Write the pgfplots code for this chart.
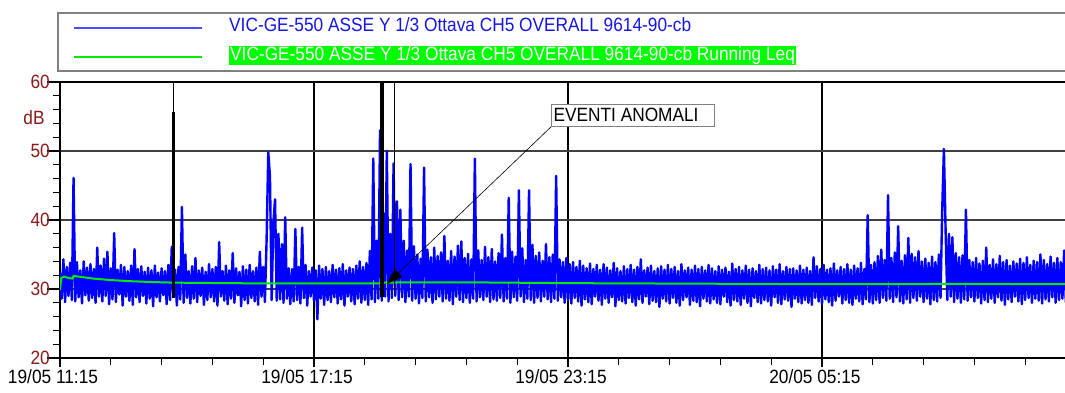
\documentclass[border=0pt]{standalone}
\usepackage{pgfplots}
\pgfplotsset{compat=1.18}
\usepackage{pgfplotstable}
\usepackage{fontspec}
\setmainfont{Liberation Sans}[FakeStretch=0.9]
\usetikzlibrary{arrows.meta}
\definecolor{dred}{RGB}{139,26,26}
\definecolor{gridg}{RGB}{64,64,64}
\definecolor{leqg}{RGB}{0,235,0}
\definecolor{hlg}{RGB}{0,255,0}
\definecolor{lblue}{RGB}{20,20,230}
\newcommand\fs{\fontsize{19.2pt}{20pt}\selectfont}
% blue trace, one sample every 0.04 h from 19/05 11:15
\pgfplotstableread[row sep=\\]{
y\\
32.4\\ 28.6\\ 34.3\\ 28.1\\ 33.2\\ 29.0\\ 33.8\\ 28.4\\ 46.1\\ 28.2\\
33.9\\ 28.8\\ 32.7\\ 27.9\\ 34.0\\ 29.1\\ 33.1\\ 28.3\\ 33.6\\ 28.7\\
32.9\\ 28.0\\ 36.0\\ 28.9\\ 33.4\\ 28.2\\ 34.4\\ 29.0\\ 35.4\\ 27.8\\
33.0\\ 28.5\\ 38.1\\ 28.1\\ 32.8\\ 29.2\\ 33.5\\ 27.6\\ 33.2\\ 28.9\\
32.6\\ 28.3\\ 33.4\\ 27.7\\ 35.8\\ 28.8\\ 32.9\\ 28.1\\ 33.3\\ 29.0\\
32.5\\ 27.9\\ 33.1\\ 28.6\\ 32.7\\ 27.5\\ 33.4\\ 28.8\\ 32.4\\ 28.2\\
33.0\\ 29.1\\ 32.6\\ 27.8\\ 33.5\\ 28.4\\ 36.1\\ 28.9\\ 32.8\\ 27.6\\
33.2\\ 28.5\\ 41.9\\ 28.0\\ 35.0\\ 28.7\\ 32.6\\ 27.9\\ 33.3\\ 28.6\\
34.5\\ 28.1\\ 32.7\\ 29.0\\ 33.1\\ 27.7\\ 32.5\\ 28.4\\ 33.6\\ 28.8\\
32.9\\ 28.2\\ 33.2\\ 27.6\\ 36.8\\ 28.9\\ 32.6\\ 28.3\\ 33.4\\ 27.8\\
32.7\\ 28.6\\ 35.2\\ 28.0\\ 33.0\\ 29.1\\ 32.5\\ 27.5\\ 33.3\\ 28.4\\
32.8\\ 27.9\\ 33.5\\ 28.7\\ 32.6\\ 28.2\\ 33.1\\ 27.7\\ 35.4\\ 28.9\\
33.2\\ 28.1\\ 37.0\\ 49.8\\ 46.3\\ 28.4\\ 39.6\\ 43.0\\ 28.3\\ 38.0\\
28.5\\ 36.5\\ 28.0\\ 40.4\\ 28.6\\ 33.0\\ 27.8\\ 32.9\\ 28.2\\ 38.7\\
28.4\\ 33.2\\ 27.9\\ 38.9\\ 28.7\\ 33.5\\ 27.6\\ 32.6\\ 28.9\\ 33.1\\
28.3\\ 32.7\\ 25.6\\ 33.4\\ 28.6\\ 32.9\\ 27.7\\ 33.2\\ 28.4\\ 32.6\\
28.1\\ 33.5\\ 28.8\\ 32.8\\ 27.9\\ 33.0\\ 28.5\\ 33.6\\ 27.6\\ 32.7\\
28.9\\ 33.1\\ 28.2\\ 32.9\\ 27.8\\ 33.4\\ 28.6\\ 34.0\\ 28.0\\ 33.2\\
28.4\\ 33.8\\ 27.7\\ 35.5\\ 28.5\\ 48.9\\ 28.1\\ 37.0\\ 28.6\\ 53.0\\
28.3\\ 41.0\\ 28.9\\ 50.0\\ 28.2\\ 38.0\\ 28.7\\ 48.2\\ 29.0\\ 42.7\\
28.4\\ 41.5\\ 28.8\\ 37.0\\ 28.1\\ 35.6\\ 28.9\\ 48.1\\ 28.3\\ 36.2\\
28.6\\ 35.0\\ 27.9\\ 34.4\\ 28.7\\ 47.6\\ 28.2\\ 35.7\\ 28.8\\ 34.6\\
28.0\\ 36.0\\ 28.5\\ 34.8\\ 28.9\\ 35.3\\ 28.2\\ 37.7\\ 28.6\\ 34.1\\
28.3\\ 35.5\\ 27.8\\ 34.7\\ 28.9\\ 36.3\\ 28.4\\ 36.9\\ 28.1\\ 34.5\\
28.7\\ 35.1\\ 28.0\\ 34.3\\ 28.6\\ 48.9\\ 28.2\\ 35.6\\ 28.8\\ 34.2\\
28.4\\ 36.1\\ 28.9\\ 34.6\\ 28.1\\ 35.8\\ 28.5\\ 34.0\\ 28.3\\ 35.2\\
28.7\\ 37.9\\ 28.2\\ 34.5\\ 28.6\\ 43.2\\ 28.0\\ 35.4\\ 28.8\\ 34.7\\
28.3\\ 44.3\\ 28.9\\ 35.9\\ 28.1\\ 34.2\\ 28.6\\ 44.3\\ 28.4\\ 36.4\\
28.0\\ 34.8\\ 28.7\\ 35.3\\ 28.2\\ 34.1\\ 28.9\\ 36.5\\ 28.5\\ 34.6\\
28.1\\ 35.0\\ 28.6\\ 46.4\\ 28.3\\ 34.3\\ 28.8\\ 33.9\\ 28.0\\ 34.5\\
28.4\\ 33.6\\ 27.9\\ 33.9\\ 28.7\\ 33.2\\ 28.2\\ 34.1\\ 27.6\\ 33.4\\
28.5\\ 33.0\\ 28.1\\ 33.7\\ 27.8\\ 32.9\\ 28.9\\ 33.5\\ 28.3\\ 32.8\\
27.7\\ 33.6\\ 28.6\\ 33.1\\ 28.0\\ 32.7\\ 28.8\\ 33.8\\ 27.5\\ 33.0\\
28.4\\ 32.6\\ 28.2\\ 33.3\\ 27.9\\ 32.9\\ 28.7\\ 33.5\\ 28.1\\ 32.8\\
27.6\\ 33.2\\ 28.5\\ 34.3\\ 28.0\\ 32.7\\ 28.9\\ 33.1\\ 27.8\\ 33.4\\
28.3\\ 32.6\\ 28.1\\ 33.0\\ 27.4\\ 33.3\\ 28.6\\ 32.8\\ 28.2\\ 33.5\\
27.9\\ 32.9\\ 28.7\\ 33.2\\ 28.0\\ 32.6\\ 27.6\\ 33.6\\ 28.4\\ 32.7\\
28.8\\ 33.1\\ 27.7\\ 32.8\\ 28.3\\ 33.4\\ 28.1\\ 32.9\\ 27.5\\ 33.2\\
28.6\\ 32.7\\ 28.2\\ 33.5\\ 27.9\\ 33.0\\ 28.5\\ 32.6\\ 28.0\\ 33.3\\
27.8\\ 32.8\\ 28.9\\ 33.1\\ 28.1\\ 32.5\\ 27.6\\ 33.7\\ 28.4\\ 32.9\\
28.2\\ 33.2\\ 27.7\\ 32.7\\ 28.6\\ 33.4\\ 28.0\\ 32.8\\ 27.5\\ 33.0\\
28.7\\ 32.6\\ 28.1\\ 33.5\\ 27.9\\ 32.9\\ 28.4\\ 33.1\\ 28.2\\ 32.7\\
27.6\\ 33.3\\ 28.8\\ 32.8\\ 28.0\\ 33.6\\ 27.8\\ 32.6\\ 28.5\\ 33.2\\
28.3\\ 32.9\\ 27.4\\ 33.0\\ 28.6\\ 32.7\\ 28.1\\ 33.4\\ 27.9\\ 32.8\\
28.4\\ 33.1\\ 28.0\\ 32.6\\ 27.7\\ 34.6\\ 28.7\\ 33.3\\ 28.2\\ 32.9\\
27.8\\ 33.5\\ 28.5\\ 32.8\\ 28.1\\ 33.0\\ 27.6\\ 33.7\\ 28.3\\ 32.7\\
28.9\\ 33.2\\ 27.9\\ 32.9\\ 28.4\\ 33.6\\ 28.0\\ 32.8\\ 27.7\\ 33.4\\
28.6\\ 33.0\\ 28.2\\ 33.8\\ 27.8\\ 32.9\\ 28.5\\ 40.7\\ 28.1\\ 33.5\\
27.9\\ 33.9\\ 28.4\\ 34.8\\ 28.0\\ 35.7\\ 28.7\\ 34.2\\ 28.3\\ 43.6\\
28.6\\ 34.5\\ 28.1\\ 35.3\\ 28.8\\ 39.1\\ 28.2\\ 34.1\\ 27.9\\ 34.9\\
28.5\\ 37.4\\ 28.0\\ 35.1\\ 28.7\\ 34.6\\ 28.3\\ 35.5\\ 28.9\\ 34.0\\
28.1\\ 34.4\\ 28.6\\ 33.8\\ 27.8\\ 34.7\\ 28.4\\ 33.9\\ 28.2\\ 35.0\\
28.7\\ 41.5\\ 50.3\\ 38.5\\ 28.4\\ 38.0\\ 28.9\\ 37.5\\ 28.1\\ 35.2\\
28.6\\ 34.6\\ 28.0\\ 34.9\\ 28.5\\ 41.5\\ 28.3\\ 34.2\\ 28.8\\ 33.9\\
28.2\\ 34.5\\ 28.7\\ 33.7\\ 27.9\\ 34.1\\ 28.4\\ 36.0\\ 28.1\\ 33.5\\
28.6\\ 34.3\\ 28.0\\ 33.6\\ 28.8\\ 34.8\\ 28.3\\ 33.9\\ 27.7\\ 34.2\\
28.5\\ 33.4\\ 28.1\\ 34.0\\ 28.9\\ 33.7\\ 28.2\\ 34.4\\ 27.8\\ 33.8\\
28.4\\ 34.6\\ 28.7\\ 33.5\\ 28.0\\ 34.1\\ 28.6\\ 33.9\\ 28.3\\ 35.0\\
27.9\\ 34.2\\ 28.5\\ 33.6\\ 28.2\\ 34.7\\ 28.8\\ 33.8\\ 28.0\\ 34.5\\
28.4\\ 33.9\\ 28.6\\ 35.6\\ 28.1\\ 34.3\\ 28.7\\ 33.7\\ 28.3\\ 34.0\\
}\bluetrace
\begin{document}
\begin{tikzpicture}
% legend
\draw[gray, line width=1.5pt] (58pt,-13pt) rectangle (1090pt,-71pt);
\draw[blue!70!white, line width=1.2pt] (74pt,-28pt) -- (202pt,-28pt);
\draw[leqg, line width=1.2pt] (74pt,-57pt) -- (202pt,-57pt);
\node[anchor=west, inner sep=0pt, text=lblue, font=\fs] at (229pt,-25pt) {VIC-GE-550 ASSE Y 1/3 Ottava CH5 OVERALL 9614-90-cb};
\node[anchor=west, inner sep=1pt, fill=hlg, text=white, font=\fs] at (229pt,-55.5pt) {VIC-GE-550 ASSE Y 1/3 Ottava CH5 OVERALL 9614-90-cb Running Leq};
\node[text=dred, font=\fs] at (34pt,-118pt) {dB};
\begin{axis}[
  at={(60pt,-358pt)}, anchor=south west,
  scale only axis, width=1016pt, height=276pt,
  xmin=0, xmax=24, ymin=20, ymax=60,
  xtick={0,6,12,18},
  xticklabels={19/05 11:15,19/05 17:15,19/05 23:15,20/05 05:15},
  minor xtick={1.2,2.4,3.6,4.8,7.2,8.4,9.6,10.8,13.2,14.4,15.6,16.8,19.2,20.4,21.6,22.8},
  ytick={20,30,40,50,60},
  minor ytick={22,24,26,28,32,34,36,38,42,44,46,48,52,54,56,58},
  xtick pos=bottom, ytick pos=left,
  tick align=outside,
  major tick length=9pt, minor tick length=7pt,
  ytick style={/pgfplots/major tick length=13pt, draw=black, line width=1.2pt},
  xtick style={draw=black, line width=1.2pt},
  axis line style={black, line width=1.6pt},
  ymajorgrids, xmajorgrids,
  y grid style={gridg, line width=2pt},
  x grid style={black, line width=1.3pt},
  /pgf/number format/assume math mode=true,
  yticklabel style={text=dred, font=\fs, inner sep=1pt},
  xticklabel style={text=black, font=\fs, xshift=-7pt, yshift=1pt},
]
\addplot[blue, line width=2.4pt, line join=round] table[x expr=\coordindex*0.04, y=y] {\bluetrace};
\addplot[leqg, line width=2pt] coordinates {
(0,29.9) (0.03,31.6) (0.1,31.8) (0.2,31.6) (0.3,31.5) (0.32,31.9) (0.5,31.75)
(0.8,31.5) (1.2,31.3) (1.6,31.15) (2,31.05) (2.5,30.95) (3,30.9) (4,30.85)
(5,30.8) (6,30.8) (7.5,30.8) (7.6,30.9) (8,30.95) (9,30.95) (10,30.95)
(11,30.9) (12,30.85) (14,30.8) (16,30.75) (18,30.7) (20,30.7) (21,30.75) (24,30.7)};
\addplot[black, line width=1pt] coordinates {(2.69,28.7) (2.69,60)};
\addplot[black, line width=3pt] coordinates {(2.69,28.7) (2.69,55.7)};
\addplot[black, line width=3.5pt] coordinates {(7.61,28.9) (7.61,60)};
\addplot[black, line width=1.5pt] coordinates {(7.90,29.1) (7.90,60)};
\draw[black, line width=0.6pt, -{Triangle[length=16pt,width=11pt]}] (axis cs:11.6,53.5) -- (axis cs:7.72,30.72);
\node[anchor=south west, draw=gray, line width=1pt, fill=white, inner xsep=2pt, inner ysep=0pt, minimum height=22pt, font=\fs] at (axis cs:11.6,53.5) {\makebox[159pt][l]{EVENTI ANOMALI}};
\end{axis}
\pgfresetboundingbox
\useasboundingbox (0pt,0pt) rectangle (1065pt,-392pt);
\end{tikzpicture}
\end{document}
